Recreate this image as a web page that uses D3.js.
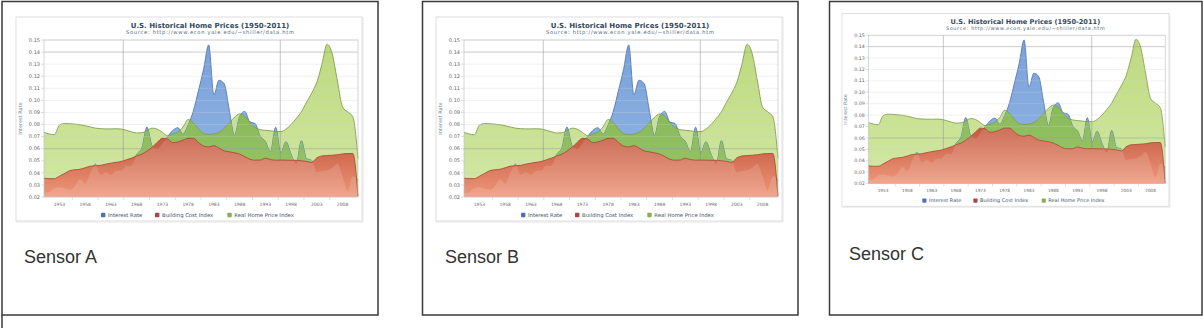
<!DOCTYPE html>
<html>
<head>
<meta charset="utf-8">
<script src="https://cdnjs.cloudflare.com/ajax/libs/d3/7.8.5/d3.min.js"></script>
<style>
body { margin: 0; background: #fff; }
svg { display: block; }
</style>
</head>
<body>
<svg id="page" width="1203" height="328"></svg>
<script>
// yearly values 1950..2011
var years = d3.range(1950, 2012);
var interestRate = [0.0232, 0.0239, 0.0274, 0.0280, 0.0270, 0.0261, 0.0290, 0.0346, 0.0309, 0.0402,
                    0.0472, 0.0384, 0.0408, 0.0383, 0.0417, 0.0419, 0.0461, 0.0458, 0.0553, 0.0604,
                    0.0779, 0.0624, 0.0595, 0.0646, 0.0699, 0.0750, 0.0774, 0.0721, 0.0796, 0.0910,
                    0.1080, 0.1257, 0.1459, 0.1046, 0.1167, 0.1138, 0.0919, 0.0708, 0.0867, 0.0909,
                    0.0821, 0.0809, 0.0703, 0.0660, 0.0575, 0.0778, 0.0565, 0.0658, 0.0554, 0.0472,
                    0.0666, 0.0516, 0.0504, 0.0405, 0.0415, 0.0422, 0.0442, 0.0476, 0.0374, 0.0252,
                    0.0373, 0.0339];
var buildingCost = [0.0356, 0.0352, 0.0352, 0.0372, 0.0395, 0.0418, 0.0425, 0.0430, 0.0442, 0.0455,
                    0.0458, 0.0462, 0.0472, 0.0480, 0.0487, 0.0494, 0.0508, 0.0522, 0.0540, 0.0555,
                    0.0580, 0.0612, 0.0652, 0.0686, 0.0680, 0.0650, 0.0656, 0.0670, 0.0686, 0.0686,
                    0.0652, 0.0622, 0.0615, 0.0625, 0.0605, 0.0582, 0.0574, 0.0566, 0.0555, 0.0535,
                    0.0512, 0.0505, 0.0506, 0.0521, 0.0510, 0.0505, 0.0506, 0.0505, 0.0504, 0.0504,
                    0.0500, 0.0495, 0.0486, 0.0524, 0.0540, 0.0543, 0.0546, 0.0550, 0.0557, 0.0560,
                    0.0560, 0.0205];
var homePrice = [0.0735, 0.0722, 0.0716, 0.0795, 0.0808, 0.0807, 0.0803, 0.0798, 0.0790, 0.0780,
                 0.0770, 0.0766, 0.0764, 0.0764, 0.0765, 0.0763, 0.0752, 0.0740, 0.0730, 0.0732,
                 0.0750, 0.0770, 0.0762, 0.0735, 0.0708, 0.0722, 0.0738, 0.0780, 0.0842, 0.0815,
                 0.0765, 0.0725, 0.0718, 0.0722, 0.0735, 0.0768, 0.0815, 0.0860, 0.0888, 0.0870,
                 0.0815, 0.0775, 0.0758, 0.0752, 0.0748, 0.0742, 0.0742, 0.0762, 0.0800, 0.0850,
                 0.0905, 0.0985, 0.1060, 0.1150, 0.1300, 0.1465, 0.1385, 0.1160, 0.0945, 0.0905,
                 0.0865, 0.0520];

var yTicks = [0.02, 0.03, 0.04, 0.05, 0.06, 0.07, 0.08, 0.09, 0.10, 0.11, 0.12, 0.13, 0.14, 0.15];
var xLabels = [1953, 1958, 1963, 1968, 1973, 1978, 1983, 1988, 1993, 1998, 2003, 2008];
var xTickYears = [1955.5, 1960.5, 1965.5, 1970.5, 1975.5, 1980.5, 1985.5, 1990.5, 1995.5, 2000.5, 2005.5];
var vGridYears = [1965.4, 1995.9];
var seriesNames = ["Interest Rate", "Building Cost Index", "Real Home Price Index"];
var legendColors = ["#4a74b0", "#b0443f", "#8cae50"];
var panelNames = ["Sensor A", "Sensor B", "Sensor C"];

var rows = years.map(function (yr, i) {
    return {year: yr, ir: interestRate[i], bc: buildingCost[i], hp: homePrice[i]};
});

var svg = d3.select("#page");
var font = "'DejaVu Sans', Verdana, sans-serif";

function gradient(defs, id, y1, y2, c1, c2) {
    var lg = defs.append("linearGradient").attr("id", id)
        .attr("gradientUnits", "userSpaceOnUse")
        .attr("x1", 0).attr("x2", 0).attr("y1", y1).attr("y2", y2);
    lg.append("stop").attr("offset", 0).attr("stop-color", c1);
    lg.append("stop").attr("offset", 1).attr("stop-color", c2);
}

function drawChart(tx, ty, k, id) {
    var w = 346, h = 204;
    var margin = {top: 23, right: 4, bottom: 24, left: 28};

    var g = svg.append("g")
        .attr("transform", "translate(" + tx + "," + ty + ") scale(" + k + ")");

    // frame with a faint shadow
    g.append("rect").attr("x", 1).attr("y", 1).attr("width", w).attr("height", h)
        .attr("fill", "none").attr("stroke", "#ececec").attr("stroke-width", 1.2);
    g.append("rect").attr("width", w).attr("height", h)
        .attr("fill", "#fff").attr("stroke", "#d6d6d6").attr("stroke-width", 0.8);

    var x = d3.scaleLinear().domain([1950, 2011]).range([margin.left, w - margin.right]);
    var y = d3.scaleLinear().domain([0.02, 0.15]).range([h - margin.bottom, margin.top]);

    function area(key) {
        return d3.area()
            .x(function (d) { return x(d.year); })
            .y0(y(0.02))
            .y1(function (d) { return y(d[key]); })
            .curve(d3.curveMonotoneX);
    }
    function line(key) {
        return d3.line()
            .x(function (d) { return x(d.year); })
            .y(function (d) { return y(d[key]); })
            .curve(d3.curveMonotoneX);
    }

    var defs = g.append("defs");
    gradient(defs, id + "-green", y(0.15), y(0.02), "#bcd97c", "#d2e8a4");
    gradient(defs, id + "-blue", y(0.15), y(0.02), "#79a1da", "#93b6e4");
    gradient(defs, id + "-dgreen", y(0.09), y(0.02), "#88b957", "#9cc86c");
    gradient(defs, id + "-red", y(0.07), y(0.02), "#c4583e", "#ee977a");
    defs.append("clipPath").attr("id", id + "-clipG")
        .append("path").attr("d", area("hp")(rows));
    defs.append("clipPath").attr("id", id + "-clipR")
        .append("path").attr("d", area("bc")(rows));

    // title
    g.append("text").attr("x", 194).attr("y", 10.6).attr("text-anchor", "middle")
        .style("font-family", font).style("font-size", "7px").style("font-weight", "bold")
        .attr("fill", "#33475c")
        .text("U.S. Historical Home Prices (1950-2011)");
    g.append("text").attr("x", 194).attr("y", 17.2).attr("text-anchor", "middle")
        .attr("textLength", 168).attr("lengthAdjust", "spacing")
        .style("font-family", font).style("font-size", "5.2px")
        .attr("fill", "#55687c")
        .text("Source: http://www.econ.yale.edu/~shiller/data.htm");

    // y axis labels + title
    g.selectAll(".ylab").data(yTicks).enter().append("text")
        .attr("x", margin.left - 4).attr("y", function (d) { return y(d) + 1.7; })
        .attr("text-anchor", "end")
        .style("font-family", font).style("font-size", "5px")
        .attr("fill", "#666")
        .text(function (d) { return d3.format(".2f")(d); });
    g.selectAll(".ytick").data(yTicks).enter().append("line")
        .attr("x1", margin.left - 3).attr("x2", margin.left)
        .attr("y1", function (d) { return y(d); }).attr("y2", function (d) { return y(d); })
        .attr("stroke", "#c8c8c8").attr("stroke-width", 0.6);
    g.append("text")
        .attr("transform", "translate(5.5," + ((margin.top + h - margin.bottom) / 2) + ") rotate(-90)")
        .attr("text-anchor", "middle")
        .style("font-family", font).style("font-size", "5px")
        .attr("fill", "#6b7f94")
        .text("Interest Rate");

    // areas
    var plot = g.append("g");
    plot.append("path").attr("d", area("hp")(rows)).attr("fill", "url(#" + id + "-green)");
    plot.append("path").attr("d", area("ir")(rows)).attr("fill", "url(#" + id + "-blue)");
    plot.append("path").attr("d", line("ir")(rows)).attr("fill", "none")
        .attr("stroke", "#4f78b2").attr("stroke-width", 0.9);
    plot.append("g").attr("clip-path", "url(#" + id + "-clipG)")
        .append("path").attr("d", area("ir")(rows)).attr("fill", "url(#" + id + "-dgreen)");
    plot.append("path").attr("d", line("hp")(rows)).attr("fill", "none")
        .attr("stroke", "#7f9f4c").attr("stroke-width", 0.9);

    // grid lines show through the green and blue fills
    var grid = plot.append("g");
    grid.selectAll(".hg").data(yTicks).enter().append("line")
        .attr("x1", margin.left).attr("x2", w - margin.right)
        .attr("y1", function (d) { return y(d); }).attr("y2", function (d) { return y(d); })
        .attr("stroke", function (d) {
            return (Math.abs(d - 0.06) < 1e-6 || Math.abs(d - 0.14) < 1e-6) ? "#9a9a9a" : "#cfcfcf";
        })
        .attr("stroke-opacity", function (d) {
            return (Math.abs(d - 0.06) < 1e-6 || Math.abs(d - 0.14) < 1e-6) ? 0.75 : 0.45;
        })
        .attr("stroke-width", 0.7);
    grid.selectAll(".vg").data(vGridYears).enter().append("line")
        .attr("x1", function (d) { return x(d); }).attr("x2", function (d) { return x(d); })
        .attr("y1", margin.top).attr("y2", h - margin.bottom)
        .attr("stroke", "#8a8a8a").attr("stroke-opacity", 0.7).attr("stroke-width", 0.7);

    plot.append("path").attr("d", area("bc")(rows)).attr("fill", "url(#" + id + "-red)");
    plot.append("g").attr("clip-path", "url(#" + id + "-clipR)")
        .append("path").attr("d", area("ir")(rows)).attr("fill", "#fff").attr("fill-opacity", 0.14);
    plot.append("path").attr("d", line("bc")(rows)).attr("fill", "none")
        .attr("stroke", "#ad4a36").attr("stroke-width", 0.9);

    // plot border
    g.append("rect").attr("x", margin.left).attr("y", margin.top)
        .attr("width", w - margin.left - margin.right).attr("height", h - margin.top - margin.bottom)
        .attr("fill", "none").attr("stroke", "#c4c4c4").attr("stroke-width", 0.7);

    // x axis
    g.selectAll(".xtick").data(xTickYears).enter().append("line")
        .attr("x1", function (d) { return x(d); }).attr("x2", function (d) { return x(d); })
        .attr("y1", h - margin.bottom).attr("y2", h - margin.bottom + 3)
        .attr("stroke", "#c0c8d0").attr("stroke-width", 0.6);
    g.selectAll(".xlab").data(xLabels).enter().append("text")
        .attr("x", function (d) { return x(d); }).attr("y", h - margin.bottom + 8.6)
        .attr("text-anchor", "middle")
        .style("font-family", font).style("font-size", "4.5px")
        .attr("fill", "#666")
        .text(function (d) { return d; });

    // legend
    var legendX = [85, 139, 211.3];
    var items = g.selectAll(".leg").data(seriesNames).enter().append("g")
        .attr("transform", function (d, i) { return "translate(" + legendX[i] + "," + (h - 6) + ")"; });
    items.append("rect").attr("x", 0).attr("y", -2.2).attr("width", 4.4).attr("height", 4.4)
        .attr("rx", 0.8).attr("fill", function (d, i) { return legendColors[i]; });
    items.append("text").attr("x", 7).attr("y", 1.8)
        .style("font-family", font).style("font-size", "5.3px")
        .attr("fill", "#44566a")
        .text(function (d) { return d; });
}

// panel boxes
var boxes = [{x: 2, w: 376, tx: 24, ty: 263}, {x: 422.5, w: 375.5, tx: 445, ty: 263}, {x: 829.5, w: 372.5, tx: 849, ty: 260}];
boxes.forEach(function (b, i) {
    svg.append("rect").attr("x", b.x).attr("y", 1.5).attr("width", b.w).attr("height", 313.5)
        .attr("fill", "#fff").attr("stroke", "#3a3a3a").attr("stroke-width", 1.5);
    svg.append("text").attr("x", b.tx).attr("y", b.ty)
        .style("font-family", "'Liberation Sans', Arial, sans-serif").style("font-size", "18px")
        .attr("fill", "#333")
        .text(panelNames[i]);
});
svg.append("line").attr("x1", 2).attr("x2", 2).attr("y1", 315).attr("y2", 328)
    .attr("stroke", "#3a3a3a").attr("stroke-width", 1.5);

drawChart(16, 17, 1, "a");
drawChart(436, 17, 1, "b");
drawChart(842, 13.5, 0.945, "c");
</script>
</body>
</html>
